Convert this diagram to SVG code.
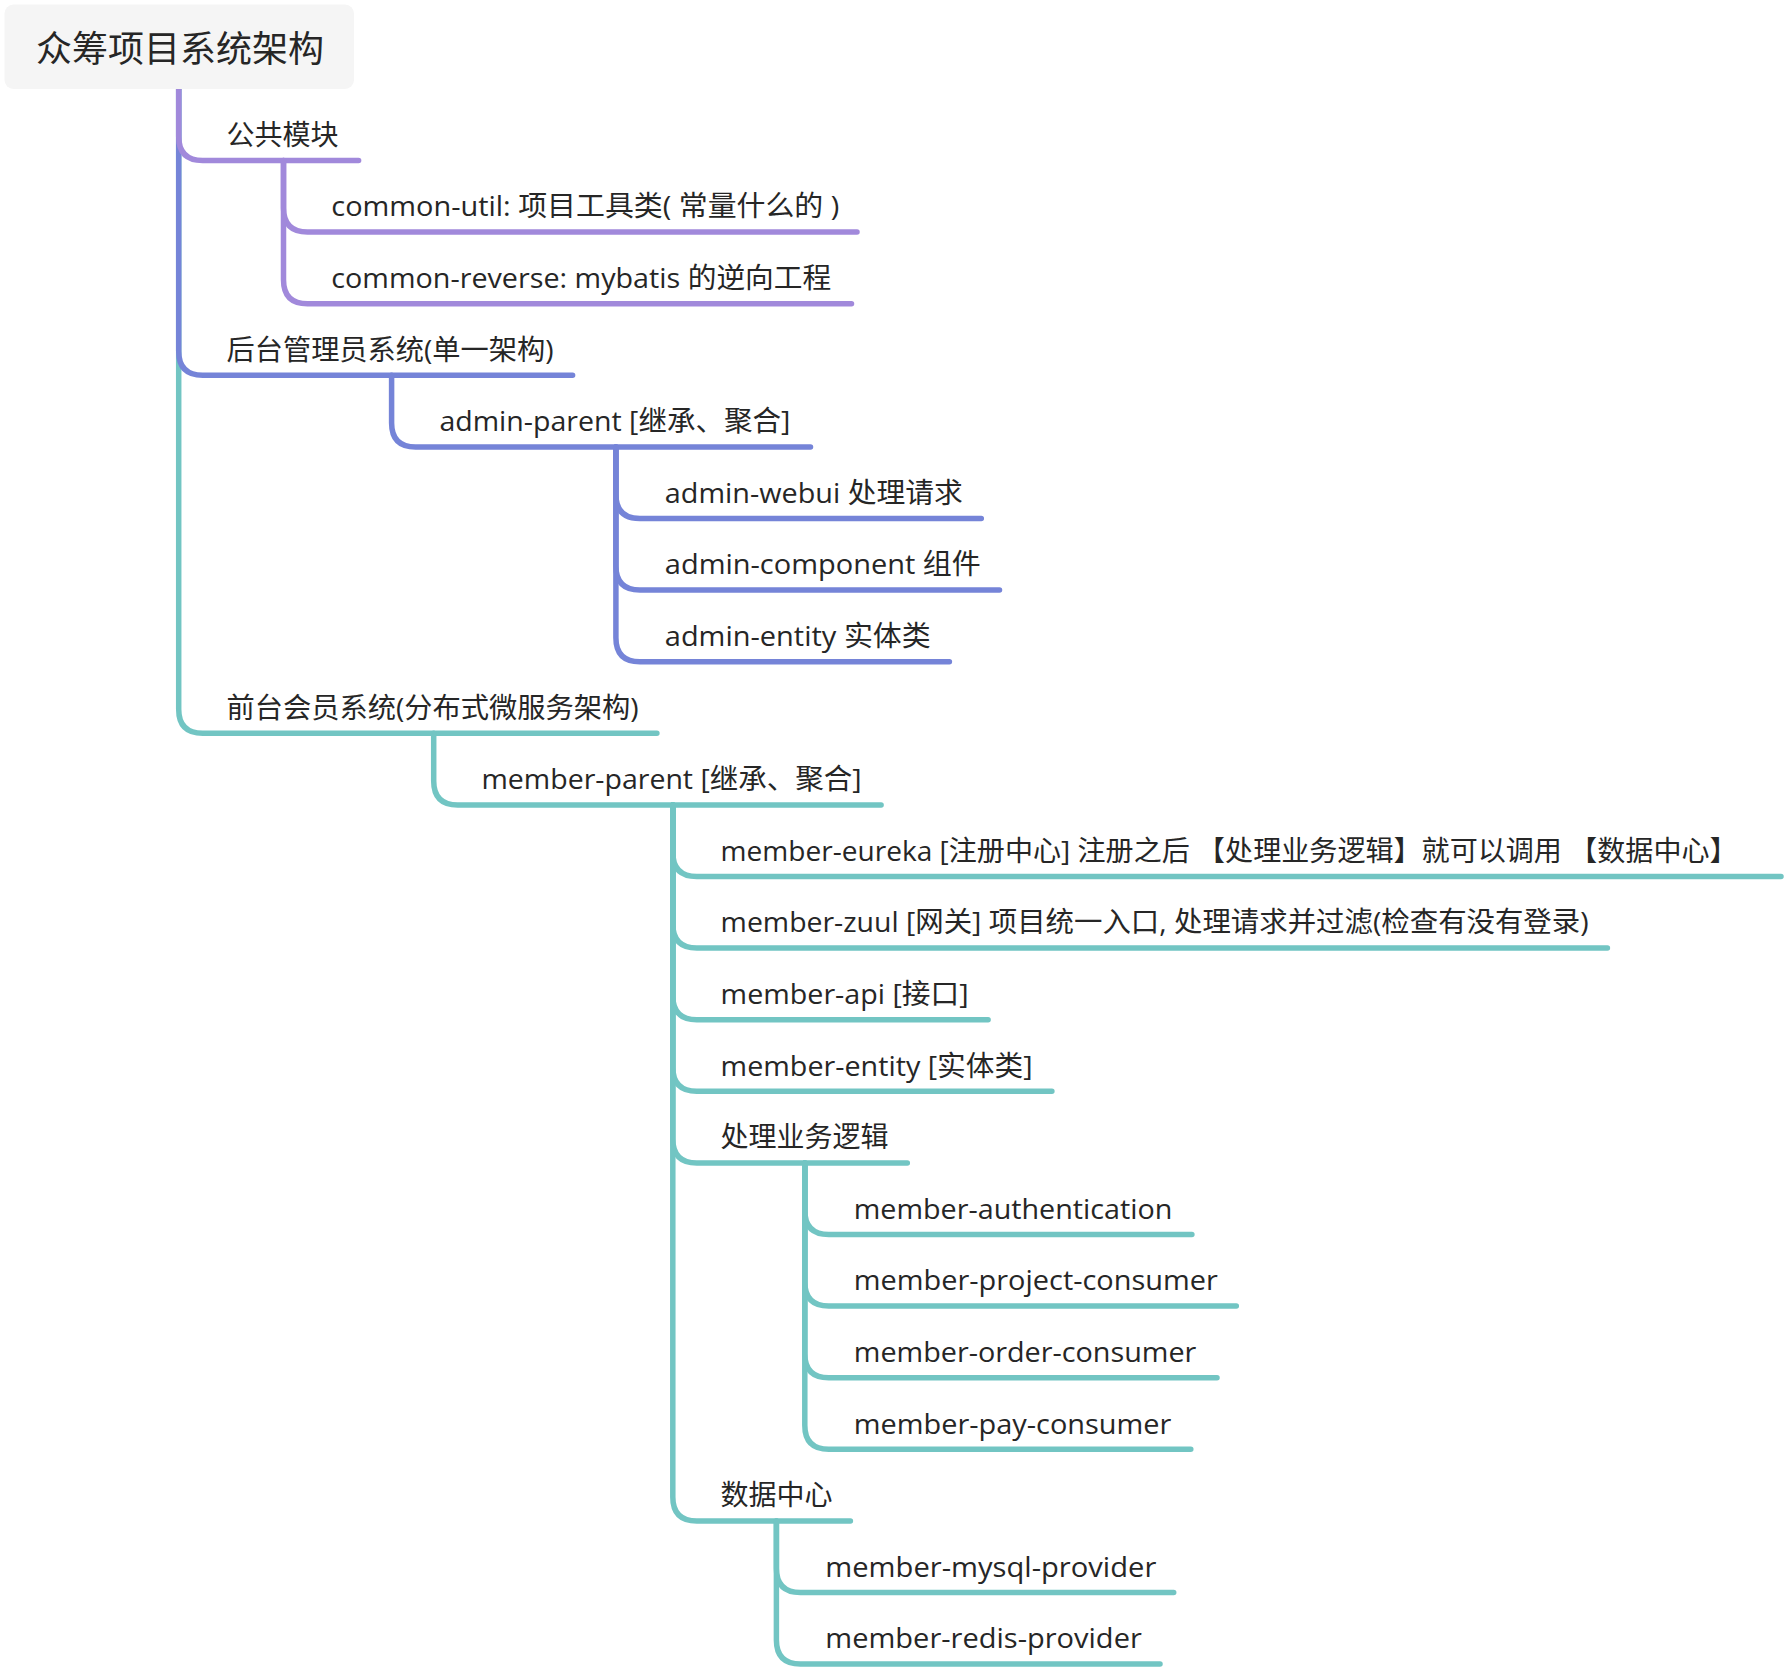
<svg xmlns="http://www.w3.org/2000/svg" width="1785" height="1670" viewBox="0 0 1785 1670">
<style>
.t{font-family:"Open Sans","Noto Sans CJK SC",sans-serif;font-size:28px;fill:#262626}
.root{font-family:"Open Sans","Noto Sans CJK SC",sans-serif;font-size:36px;fill:#262626}
.c{fill:none;stroke-width:5.5;stroke-linecap:round;stroke-linejoin:round}
.p{stroke:#A189DB}
.b{stroke:#7584D8}
.g{stroke:#72C5C3}
</style>
<rect width="1785" height="1670" fill="#ffffff"/>
<g id="connectors">
<path class="c g" d="M178.7 89 V709.3 Q178.7 733.3 202.7 733.3 H656.9"/>
<path class="c b" d="M178.7 89 V351.3 Q178.7 375.3 202.7 375.3 H572.6"/>
<path class="c p" d="M178.7 89 V136.5 Q178.7 160.5 202.7 160.5 H358.6"/>
<path class="c p" d="M283.5 160.5 V208.1 Q283.5 232.1 307.5 232.1 H857"/>
<path class="c p" d="M283.5 160.5 V279.7 Q283.5 303.7 307.5 303.7 H851.5"/>
<path class="c b" d="M391.6 375.3 V422.9 Q391.6 446.9 415.6 446.9 H810.5"/>
<path class="c b" d="M615.9 446.9 V494.5 Q615.9 518.5 639.9 518.5 H981.3"/>
<path class="c b" d="M615.9 446.9 V566.1 Q615.9 590.1 639.9 590.1 H999.5"/>
<path class="c b" d="M615.9 446.9 V637.7 Q615.9 661.7 639.9 661.7 H949.4"/>
<path class="c g" d="M433.7 733.3 V780.9 Q433.7 804.9 457.7 804.9 H881.1"/>
<path class="c g" d="M672.8 804.9 V852.5 Q672.8 876.5 696.8 876.5 H1781"/>
<path class="c g" d="M672.8 804.9 V924.1 Q672.8 948.1 696.8 948.1 H1607.4"/>
<path class="c g" d="M672.8 804.9 V995.7 Q672.8 1019.7 696.8 1019.7 H988.1"/>
<path class="c g" d="M672.8 804.9 V1067.3 Q672.8 1091.3 696.8 1091.3 H1051.9"/>
<path class="c g" d="M672.8 804.9 V1138.9 Q672.8 1162.9 696.8 1162.9 H907.3"/>
<path class="c g" d="M672.8 804.9 V1496.9 Q672.8 1520.9 696.8 1520.9 H850.4"/>
<path class="c g" d="M804.8 1162.9 V1210.5 Q804.8 1234.5 828.8 1234.5 H1191.9"/>
<path class="c g" d="M804.8 1162.9 V1282.1 Q804.8 1306.1 828.8 1306.1 H1236.3"/>
<path class="c g" d="M804.8 1162.9 V1353.7 Q804.8 1377.7 828.8 1377.7 H1217"/>
<path class="c g" d="M804.8 1162.9 V1425.3 Q804.8 1449.3 828.8 1449.3 H1190.8"/>
<path class="c g" d="M776.4 1520.9 V1568.5 Q776.4 1592.5 800.4 1592.5 H1173.7"/>
<path class="c g" d="M776.4 1520.9 V1640.1 Q776.4 1664.1 800.4 1664.1 H1160"/>
</g>
<g id="root"><rect x="4.5" y="4.5" width="349.5" height="84.5" rx="9" fill="#F5F5F5"/><text class="root" x="36" y="62">众筹项目系统架构</text></g>
<g id="n-common"><text class="t" x="226.5" y="144.5">公共模块</text></g>
<g id="n-common-util"><text class="t" x="331.3" y="216.3" textLength="508" lengthAdjust="spacingAndGlyphs">common-util: 项目工具类( 常量什么的 )</text></g>
<g id="n-common-reverse"><text class="t" x="331.3" y="287.9" textLength="500" lengthAdjust="spacingAndGlyphs">common-reverse: mybatis 的逆向工程</text></g>
<g id="n-admin"><text class="t" x="226.5" y="359.5" textLength="327" lengthAdjust="spacingAndGlyphs">后台管理员系统(单一架构)</text></g>
<g id="n-admin-parent"><text class="t" x="439.4" y="431.1" textLength="351" lengthAdjust="spacingAndGlyphs">admin-parent [继承、聚合]</text></g>
<g id="n-admin-webui"><text class="t" x="664.8" y="502.7" textLength="298" lengthAdjust="spacingAndGlyphs">admin-webui 处理请求</text></g>
<g id="n-admin-component"><text class="t" x="664.8" y="574.3" textLength="316" lengthAdjust="spacingAndGlyphs">admin-component 组件</text></g>
<g id="n-admin-entity"><text class="t" x="664.8" y="645.9" textLength="266" lengthAdjust="spacingAndGlyphs">admin-entity 实体类</text></g>
<g id="n-member"><text class="t" x="226.5" y="717.5" textLength="412" lengthAdjust="spacingAndGlyphs">前台会员系统(分布式微服务架构)</text></g>
<g id="n-member-parent"><text class="t" x="481.5" y="789.1" textLength="380" lengthAdjust="spacingAndGlyphs">member-parent [继承、聚合]</text></g>
<g id="n-member-eureka"><text class="t" x="720.6" y="860.7" textLength="1017" lengthAdjust="spacingAndGlyphs">member-eureka [注册中心] 注册之后 【处理业务逻辑】就可以调用 【数据中心】</text></g>
<g id="n-member-zuul"><text class="t" x="720.6" y="932.3" textLength="868" lengthAdjust="spacingAndGlyphs">member-zuul [网关] 项目统一入口, 处理请求并过滤(检查有没有登录)</text></g>
<g id="n-member-api"><text class="t" x="720.6" y="1003.9" textLength="248" lengthAdjust="spacingAndGlyphs">member-api [接口]</text></g>
<g id="n-member-entity"><text class="t" x="720.6" y="1075.5" textLength="312" lengthAdjust="spacingAndGlyphs">member-entity [实体类]</text></g>
<g id="n-business"><text class="t" x="720.6" y="1147.1">处理业务逻辑</text></g>
<g id="n-auth"><text class="t" x="853.8" y="1218.7" textLength="318.5" lengthAdjust="spacingAndGlyphs">member-authentication</text></g>
<g id="n-project"><text class="t" x="853.8" y="1290.3" textLength="364" lengthAdjust="spacingAndGlyphs">member-project-consumer</text></g>
<g id="n-order"><text class="t" x="853.8" y="1361.9" textLength="342.5" lengthAdjust="spacingAndGlyphs">member-order-consumer</text></g>
<g id="n-pay"><text class="t" x="853.8" y="1433.5" textLength="317.5" lengthAdjust="spacingAndGlyphs">member-pay-consumer</text></g>
<g id="n-data"><text class="t" x="720.6" y="1505.1">数据中心</text></g>
<g id="n-mysql"><text class="t" x="825.3" y="1576.7" textLength="331" lengthAdjust="spacingAndGlyphs">member-mysql-provider</text></g>
<g id="n-redis"><text class="t" x="825.3" y="1648.3" textLength="316.5" lengthAdjust="spacingAndGlyphs">member-redis-provider</text></g>
</svg>
